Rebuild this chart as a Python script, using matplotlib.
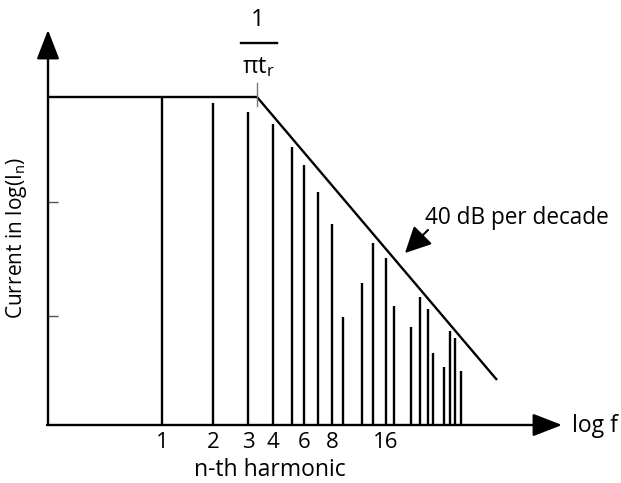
import matplotlib
matplotlib.use("Agg")
import matplotlib.pyplot as plt

plt.rcParams['font.family'] = ['Open Sans', 'DejaVu Sans']
plt.rcParams['mathtext.fontset'] = 'custom'
plt.rcParams['mathtext.rm'] = 'Open Sans'
plt.rcParams['mathtext.it'] = 'Open Sans'
plt.rcParams['mathtext.default'] = 'regular'

# schematic units: x = position along log f axis, y = log(In) level above the axis
harm_x = [114, 165, 200, 225, 244, 256, 270, 284, 295, 314, 325, 338, 346,
          363, 372, 380, 385, 396, 402, 407, 413]
harm_y = [328, 322, 313, 301, 278, 260, 233, 201, 108, 142, 182, 167, 119,
          98, 128, 116, 72, 58, 94, 87, 54]

# envelope: flat up to the corner 1/(pi tr), then falling 40 dB per decade
env_x = [0, 209, 449]
env_y = [328, 328, 45]

tick_pos = [114, 165, 200, 225, 256, 284, 338]
tick_lab = ['1', '2', '3', '4', '6', '8', '16']
ytick_pos = [109, 223]

W, H = 621, 483
x0, y0 = 48, 425       # origin, pixels
xmax, ymax = 517, 395

fig = plt.figure(figsize=(W / 100, H / 100), dpi=100)
ax = fig.add_axes([x0 / W, (H - y0) / H, xmax / W, ymax / H])
ax.set_xlim(0, xmax)
ax.set_ylim(0, ymax)
for s in ax.spines.values():
    s.set_visible(False)

lw = 1.7
ax.vlines(harm_x, 0, harm_y, color='black', lw=lw)
ax.plot(env_x, env_y, color='black', lw=lw, solid_capstyle='butt')

# axes with arrow heads
arr = dict(arrowstyle='-|>,head_length=0.9,head_width=0.35', color='black',
           lw=lw, mutation_scale=20, shrinkA=0, shrinkB=0)
ax.annotate('', xy=(0, ymax), xytext=(0, 0), arrowprops=arr, annotation_clip=False)
ax.annotate('', xy=(514, 0), xytext=(-1, 0), arrowprops=arr, annotation_clip=False)

ax.set_xticks(tick_pos)
ax.set_xticklabels(tick_lab, fontsize=16)
ax.tick_params(axis='x', length=0, pad=5)
ax.set_yticks(ytick_pos)
ax.set_yticklabels([])
ax.tick_params(axis='y', direction='in', length=7, width=1, color='#555555')

# corner marker and 1/(pi tr) label
ax.plot([209, 209], [319, 342], color='#777777', lw=1)
ax.text(210, 405, '1', ha='center', va='center', fontsize=17)
ax.plot([193, 229], [382, 382], color='black', lw=lw, clip_on=False)
ax.text(210, 358, r'$\pi t_r$', ha='center', va='center', fontsize=17)

ax.text(-31, 187, r'Current in log(I$_n$)', rotation=90, ha='center', va='center',
        fontsize=15)
ax.text(222, -45, 'n-th harmonic', ha='center', va='center', fontsize=16.5)
ax.text(524, -1, 'log f', ha='left', va='center', fontsize=16.5)

ax.text(377, 201, '40 dB per decade', ha='left', va='baseline', fontsize=16.3)
ax.annotate('', xy=(357, 172), xytext=(380, 195),
            arrowprops=dict(arrowstyle='-|>,head_length=0.8,head_width=0.4',
                            color='black', lw=1.5, mutation_scale=20,
                            shrinkA=0, shrinkB=0))

fig.savefig('out.png', dpi=100)
